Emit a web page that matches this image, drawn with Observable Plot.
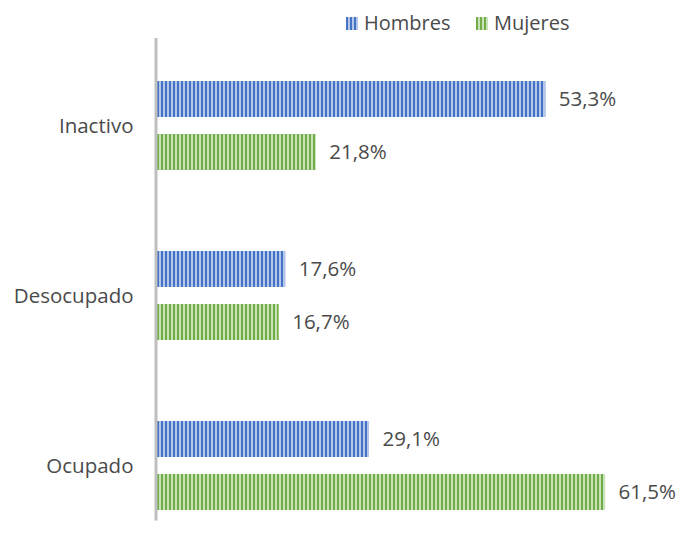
<!DOCTYPE html>
<html>
<head>
<meta charset="utf-8">
<script src="https://cdn.jsdelivr.net/npm/d3@7"></script>
<script src="https://cdn.jsdelivr.net/npm/@observablehq/plot@0.6"></script>
<style>
  html, body { margin: 0; padding: 0; background: #fff; }
  body { width: 682px; height: 546px; overflow: hidden; font-family: "Open Sans", sans-serif; }
  #legend { height: 36px; position: relative; font-size: 20px; color: #4a4a4a; }
  .item { position: absolute; top: 9px; display: flex; align-items: center; line-height: 28px; }
  .sw { width: 12px; height: 13px; margin-right: 6px; }
  #chart svg { display: block; }
</style>
</head>
<body>
<div id="legend"></div>
<div id="chart"></div>
<script>
const categories = ["Inactivo", "Desocupado", "Ocupado"];
const series = ["Hombres", "Mujeres"];
const hombres = [53.3, 17.6, 29.1];
const mujeres = [21.8, 16.7, 61.5];

const colors = {
  Hombres: { dark: "#4472C4", light: "#B4C7EA" },
  Mujeres: { dark: "#70AD47", light: "#C9E2B8" }
};
const patternId = { Hombres: "patH", Mujeres: "patM" };

const data = [];
categories.forEach((c, i) => {
  data.push({ category: c, series: "Hombres", value: hombres[i] });
  data.push({ category: c, series: "Mujeres", value: mujeres[i] });
});
const fmt = v => v.toFixed(1).replace(".", ",") + "%";

// legend
const legend = document.getElementById("legend");
const legendPos = { Hombres: 346, Mujeres: 476 };
series.forEach(s => {
  const it = document.createElement("div");
  it.className = "item";
  it.style.left = legendPos[s] + "px";
  const sw = document.createElement("div");
  sw.className = "sw";
  sw.style.background = `repeating-linear-gradient(90deg, ${colors[s].dark} 0 2px, ${colors[s].light} 2px 4px)`;
  it.appendChild(sw);
  const t = document.createElement("span");
  t.textContent = s;
  it.appendChild(t);
  legend.appendChild(it);
});

const H = 510;
const bandInset = 53;
const labelFill = "#4a4a4a";
const plot = Plot.plot({
  width: 682,
  height: H,
  marginLeft: 157,
  marginRight: 15,
  marginTop: 35.5,
  marginBottom: 25.5,
  style: { fontFamily: "Open Sans, sans-serif", fontSize: "21px", color: labelFill, background: "#fff" },
  x: { domain: [0, 70], axis: null },
  y: { domain: categories, paddingInner: 0.474, paddingOuter: 0.05, label: null },
  marks: [
    Plot.barX(data.filter(d => d.series === "Hombres"), {
      x: "value", y: "category", fill: "url(#patH)", insetBottom: bandInset
    }),
    Plot.barX(data.filter(d => d.series === "Mujeres"), {
      x: "value", y: "category", fill: "url(#patM)", insetTop: bandInset
    }),
    Plot.text(data.filter(d => d.series === "Hombres"), {
      x: "value", y: "category", text: d => fmt(d.value), dx: 13, dy: -26.5,
      textAnchor: "start", fill: labelFill, fontSize: 20.5
    }),
    Plot.text(data.filter(d => d.series === "Mujeres"), {
      x: "value", y: "category", text: d => fmt(d.value), dx: 13, dy: 26.5,
      textAnchor: "start", fill: labelFill, fontSize: 20.5
    }),
    Plot.ruleX([0], { stroke: "#BFBFBF", strokeWidth: 3, dx: -1.5, insetTop: -33.5 }),
    Plot.axisY({ tickSize: 0, tickPadding: 24, fontSize: 20.5, fill: labelFill, label: null })
  ]
});

// add stripe patterns
const svgns = "http://www.w3.org/2000/svg";
const defs = document.createElementNS(svgns, "defs");
series.forEach(s => {
  const p = document.createElementNS(svgns, "pattern");
  p.setAttribute("id", patternId[s]);
  p.setAttribute("patternUnits", "userSpaceOnUse");
  p.setAttribute("width", "4");
  p.setAttribute("height", "4");
  p.setAttribute("x", "157");
  const r1 = document.createElementNS(svgns, "rect");
  r1.setAttribute("width", "4"); r1.setAttribute("height", "4"); r1.setAttribute("fill", colors[s].light);
  const r2 = document.createElementNS(svgns, "rect");
  r2.setAttribute("width", "2"); r2.setAttribute("height", "4"); r2.setAttribute("fill", colors[s].dark);
  p.appendChild(r1); p.appendChild(r2);
  defs.appendChild(p);
});
plot.insertBefore(defs, plot.firstChild);
document.getElementById("chart").appendChild(plot);
</script>
</body>
</html>
